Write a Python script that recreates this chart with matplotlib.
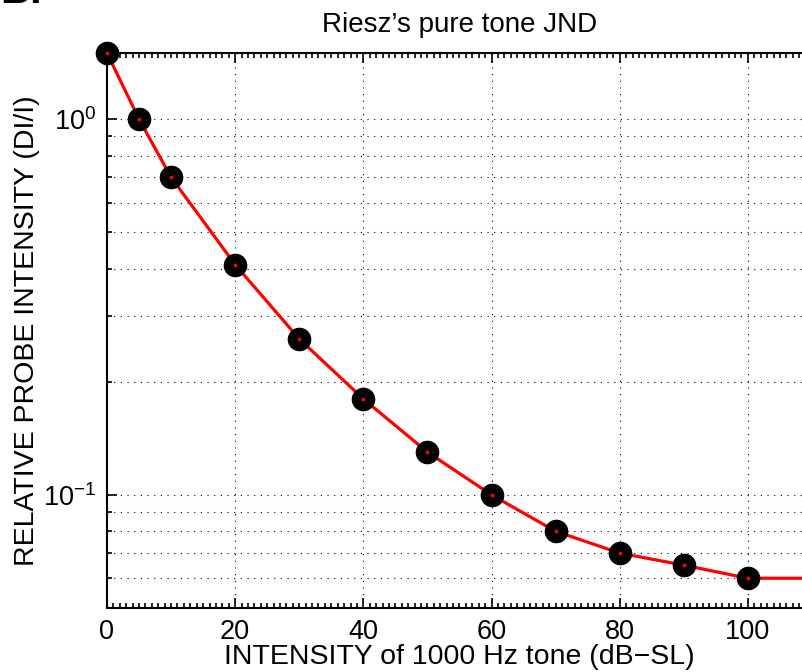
import matplotlib
matplotlib.use("Agg")
import matplotlib.pyplot as plt
from matplotlib.ticker import MultipleLocator, LogLocator, NullFormatter

plt.rcParams['font.family'] = ['Liberation Sans', 'DejaVu Sans']
plt.rcParams['mathtext.fontset'] = 'custom'
plt.rcParams['mathtext.rm'] = 'Liberation Sans'
plt.rcParams['mathtext.it'] = 'Liberation Sans'
plt.rcParams['mathtext.default'] = 'regular'

# data
intensity_db = [0, 5, 10, 20, 30, 40, 50, 60, 70, 80, 90, 100]
rel_jnd = [1.5, 1.0, 0.70, 0.41, 0.26, 0.18, 0.13, 0.10, 0.080, 0.070, 0.065, 0.060]
curve_x = intensity_db + [110]
curve_y = rel_jnd + [0.060]
x_ticks = [0, 20, 40, 60, 80, 100]

fig = plt.figure(figsize=(8.03, 6.72), dpi=100)
ax = fig.add_axes([107/803, 1-608/672, (812-107)/803, (608-53)/672])

ax.plot(curve_x, curve_y, color='red', lw=2.3, zorder=3, clip_on=False)
ax.plot(intensity_db, rel_jnd, 'o', color='black', ms=16, zorder=4, clip_on=False)
ax.plot(intensity_db, rel_jnd, '.', color='red', ms=3.5, zorder=5, clip_on=False)

ax.set_yscale('log')
ax.set_xlim(0, 110)
ax.set_ylim(0.05, 1.5)
ax.set_xticks(x_ticks)
ax.xaxis.set_minor_locator(MultipleLocator(1))
ax.yaxis.set_major_locator(LogLocator(base=10))
ax.yaxis.set_minor_locator(LogLocator(base=10, subs=[2, 3, 4, 5, 6, 7, 8, 9]))
ax.yaxis.set_minor_formatter(NullFormatter())

ax.grid(True, which='major', axis='x', color='black', linestyle=(0, (1, 5)), lw=0.8)
ax.grid(True, which='both', axis='y', color='black', linestyle=(0, (1, 5)), lw=0.8)

ax.tick_params(which='both', direction='in', top=True, right=True, labelsize=19.5, width=1.2)
ax.tick_params(which='major', length=7, pad=8)
ax.tick_params(which='minor', length=3.5)
for s in ax.spines.values():
    s.set_linewidth(1.5)

ax.set_title("Riesz\u2019s pure tone JND", fontsize=20, pad=15)
ax.set_xlabel("INTENSITY of 1000 Hz tone (dB\u2212SL)", fontsize=20.5, labelpad=-1)
ax.set_ylabel("RELATIVE PROBE INTENSITY (DI/I)", fontsize=20.5, labelpad=2)

fig.text(0.0, 1 - 3/672, "B.", fontsize=30, fontweight='bold', ha='left', va='baseline')

fig.savefig("out.png", dpi=100)
